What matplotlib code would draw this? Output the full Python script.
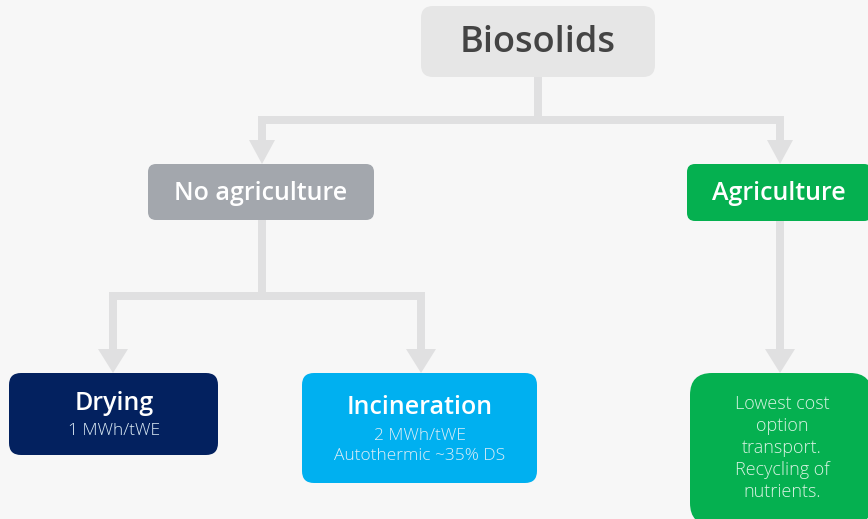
import matplotlib
matplotlib.use("Agg")
import matplotlib.pyplot as plt
from matplotlib.patches import FancyBboxPatch, Polygon

# Node texts
titles = ["Biosolids", "No agriculture", "Agriculture", "Drying", "Incineration", ""]
subtexts = ["", "", "", "1 MWh/tWE", "2 MWh/tWE\nAutothermic ~35% DS",
            "Lowest cost\noption\ntransport.\nRecycling of\nnutrients."]
fill_colors = ["#e6e6e6", "#a3a7ad", "#05b050", "#03215f", "#00b0f0", "#05b050"]
title_colors = ["#444444", "white", "white", "white", "white", "white"]

# Layout in pixels: (x0, y0, x1, y1)
boxes = [(421, 6, 655, 77), (148, 164, 374, 220), (687, 164, 872, 221),
         (9, 373, 218, 455), (302, 373, 537, 483), (690, 373, 872, 525)]
title_x = [538, 261, 779, 114, 420, None]
title_y = [43, 193, 194, 404, 407, None]
title_size = [26, 18, 18, 18, 18, 0]
sub_x = [None, None, None, 114, 420, 782]
sub_y = [None, None, None, 431, 446, 448]
# edges: parent -> child
edges = [(0, 1), (0, 2), (1, 3), (1, 4), (2, 5)]
split_y = {0: 120, 1: 296}

BG = "#f7f7f7"
LINE = "#e0e0e1"
FONT = ["Open Sans", "DejaVu Sans"]

fig = plt.figure(figsize=(8.68, 5.19), dpi=100, facecolor=BG)
ax = fig.add_axes([0, 0, 1, 1])
ax.set_xlim(0, 868)
ax.set_ylim(519, 0)
ax.axis("off")
ax.set_facecolor(BG)

lw = 8 * 72 / 100

# connectors
cxs = {1: 262, 2: 780, 3: 113, 4: 421, 5: 780}
pxs = {0: 538, 1: 262, 2: 780}
for p, c in edges:
    px = pxs[p]
    x = cxs[c]
    top = boxes[p][3]
    tip = boxes[c][1]
    if p in split_y:
        sy = split_y[p]
        ax.plot([px, px], [top, sy], color=LINE, lw=lw, solid_capstyle="butt", zorder=1)
        ax.plot([px, x, x], [sy, sy, tip - 20], color=LINE, lw=lw,
                solid_capstyle="butt", solid_joinstyle="miter", zorder=1)
    else:
        ax.plot([x, x], [top, tip - 20], color=LINE, lw=lw, solid_capstyle="butt", zorder=1)
    hw = 13 if c in (1, 2) else 15
    hh = 24
    ax.add_patch(Polygon([(x - hw, tip - hh), (x + hw, tip - hh), (x, tip)],
                         closed=True, facecolor=LINE, edgecolor="none", zorder=1))

# boxes
for i, (x0, y0, x1, y1) in enumerate(boxes):
    r = 12 if i in (0, 3, 4) else 8
    if i == 5:
        r = 22
    ax.add_patch(FancyBboxPatch((x0, y0), x1 - x0, y1 - y0,
                                boxstyle=f"round,pad=0,rounding_size={r}",
                                facecolor=fill_colors[i], edgecolor="none", zorder=2))
    if titles[i]:
        ax.text(title_x[i], title_y[i], titles[i], ha="center", va="center",
                fontsize=title_size[i], fontweight="semibold", color=title_colors[i],
                family=FONT, zorder=3)
    if subtexts[i]:
        big = i == 5
        ax.text(sub_x[i], sub_y[i], subtexts[i], ha="center", va="center",
                fontsize=13 if big else 12.5, fontweight="light",
                color="#d9f3e3" if big else "#dfeef7",
                family=FONT, linespacing=1.3 if big else 1.27, zorder=3)

fig.savefig("out.png", dpi=100, facecolor=BG)
